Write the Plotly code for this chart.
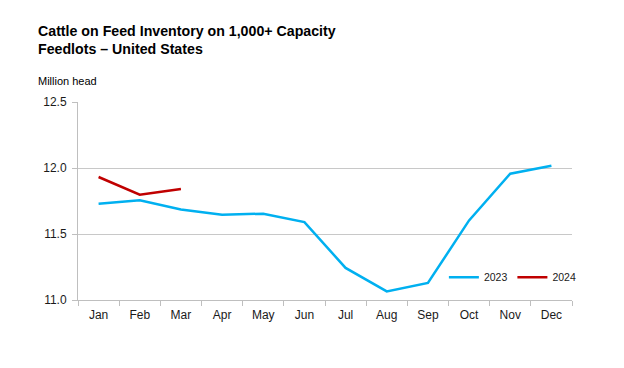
import plotly.graph_objects as go

months = ["Jan", "Feb", "Mar", "Apr", "May", "Jun", "Jul", "Aug", "Sep", "Oct", "Nov", "Dec"]
inv_2023 = [11.73, 11.755, 11.685, 11.646, 11.654, 11.59, 11.243, 11.065, 11.129, 11.603, 11.957, 12.017]
months_2024 = ["Jan", "Feb", "Mar"]
inv_2024 = [11.932, 11.798, 11.841]

fig = go.Figure()
fig.add_trace(go.Scatter(x=months, y=inv_2023, mode="lines", name="2023",
                         line=dict(color="#00B0F0", width=2.5)))
fig.add_trace(go.Scatter(x=months_2024, y=inv_2024, mode="lines", name="2024",
                         line=dict(color="#C00000", width=2.5)))

fig.update_layout(
    width=616, height=360,
    margin=dict(l=70, r=52, t=94, b=68),
    paper_bgcolor="white", plot_bgcolor="white",
    font=dict(family="Liberation Sans, Arial, sans-serif", size=12, color="#1a1a1a"),
    showlegend=True,
    legend=dict(orientation="h", x=1.02, xanchor="right", y=0.115, yanchor="middle",
                itemwidth=30, font=dict(size=10.5), bgcolor="rgba(0,0,0,0)", tracegroupgap=0),
    annotations=[
        dict(text="<b>Cattle on Feed Inventory on 1,000+ Capacity<br>Feedlots – United States</b>",
             xref="paper", yref="paper", x=-0.085, y=1.0, xanchor="left", yanchor="bottom",
             yshift=43, align="left", showarrow=False,
             font=dict(size=14.2, color="#000000", family="Liberation Sans, Arial, sans-serif")),
        dict(text="Million head", xref="paper", yref="paper", x=-0.085, y=1.0,
             xanchor="left", yanchor="bottom", yshift=13, showarrow=False,
             font=dict(size=11, color="#000000")),
    ],
)
fig.update_xaxes(categoryorder="array", categoryarray=months, showgrid=False,
                 showline=True, linecolor="#bfbfbf", linewidth=1,
                 ticks="outside", tickson="boundaries", ticklen=5, tickcolor="#bfbfbf",
                 ticklabelstandoff=4,
                 tickfont=dict(size=12, color="#1a1a1a"), range=[-0.5, 11.5])
fig.update_yaxes(range=[11.0, 12.5], dtick=0.5, tickformat=".1f", showgrid=True,
                 gridcolor="#c8c8c8", gridwidth=1, showline=True, linecolor="#bfbfbf",
                 ticks="outside", ticklen=5, tickcolor="#bfbfbf", zeroline=False,
                 ticklabelstandoff=3,
                 tickfont=dict(size=12, color="#1a1a1a"))

fig.write_html("out.html")
